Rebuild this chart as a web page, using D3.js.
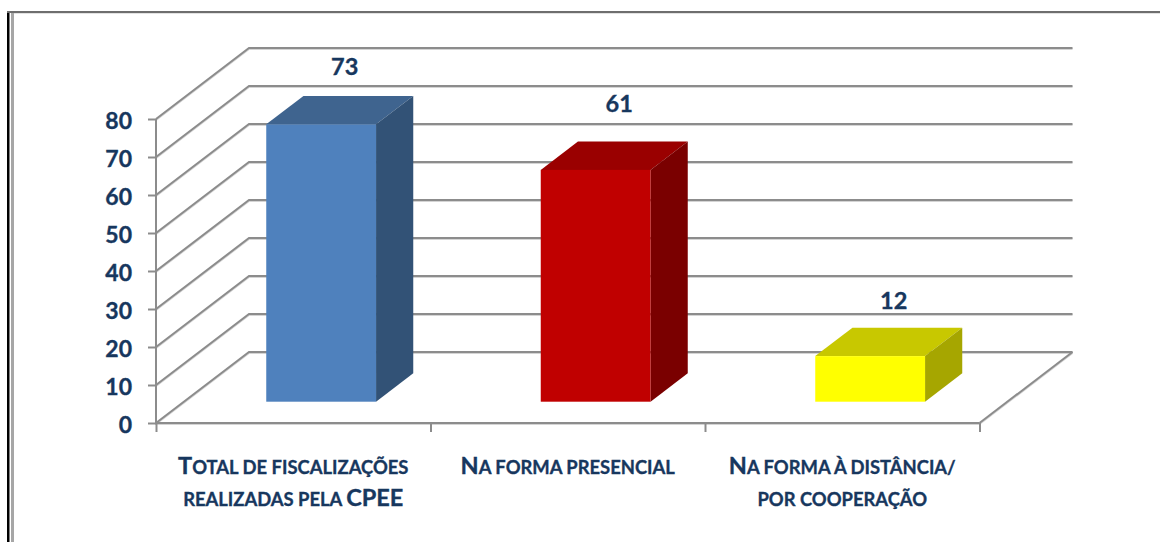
<!DOCTYPE html>
<html><head><meta charset="utf-8">
<script src="https://cdn.jsdelivr.net/npm/d3@7"></script>
<style>html,body{margin:0;background:#fff}svg{display:block}text{font-family:Lato,"Open Sans",sans-serif;font-weight:700;fill:#17375E;stroke:#17375E;stroke-width:.35px}</style>
</head><body><svg id="c" width="1160" height="542"></svg>
<script>
const categories = [["Total de fiscalizações","realizadas pela CPEE"],["Na forma presencial"],["Na forma à distância/","por cooperação"]];
const values = [73,61,12];
const yTicks = [0,10,20,30,40,50,60,70,80];
const frontColors = ["#4F81BD","#C00000","#FFFF00"];
const topColors = ["#3F648F","#9A0000","#C8C800"];
const sideColors = ["#325276","#7A0000","#A6A600"];

const svg = d3.select("#c");
const y = d3.scaleLinear().domain([0,80]).range([423,119]);
const x = d3.scaleBand().domain(d3.range(categories.length)).range([156,979.5]);
const DX = 93, DY = -71;
const grid = "#8C8C8C", shade = "#D4D4D4";
const labelLift = [58,67,56];

// outer frame
svg.append("rect").attr("x",7).attr("y",11).attr("width",2.5).attr("height",531).attr("fill","#000");
svg.append("rect").attr("x",11).attr("y",12).attr("width",3).attr("height",530).attr("fill","#A6A6A6");
svg.append("rect").attr("x",7).attr("y",11).attr("width",1153).attr("height",2).attr("fill","#6E6E6E");
svg.append("rect").attr("x",14).attr("y",13).attr("width",1146).attr("height",1).attr("fill","#E2E2E2");

// walls & gridlines (soft shadow under each line, then the line)
function wall(stroke,off){
  const g = svg.append("g").attr("fill","none").attr("stroke",stroke).attr("stroke-width",2).attr("transform",`translate(0,${off})`);
  yTicks.forEach(t=>{
    g.append("path").attr("d",d3.line()([[x.range()[0],y(t)],[x.range()[0]+DX,y(t)+DY],[x.range()[1]+DX,y(t)+DY]]));
  });
  g.append("path").attr("d",d3.line()([[x.range()[1],y(0)],[x.range()[1]+DX,y(0)+DY]]));
  g.append("path").attr("d",d3.line()([[x.range()[0],y(80)],[x.range()[0],y(0)],[x.range()[1],y(0)]]));
}
wall(shade,1); wall(grid,0);

// axes
const axisY = svg.append("g").attr("transform",`translate(${x.range()[0]},0)`)
  .call(d3.axisLeft(y).tickValues(yTicks).tickSize(8).tickPadding(16));
axisY.select(".domain").remove();
const axisX = svg.append("g").attr("transform",`translate(0,${y(0)})`)
  .call(d3.axisBottom(d3.scaleLinear().domain([0,3]).range(x.range())).tickValues([0,1,2,3]).tickSize(9).tickFormat(""));
axisX.select(".domain").remove();
svg.selectAll(".tick line").attr("stroke",grid).attr("stroke-width",2);
axisY.selectAll("text").style("font-size","23px").attr("dy","0.4em");

// bars
const barW = x.bandwidth()/2.5, d0 = {dx:DX*0.3,dy:DY*0.3}, d1 = {dx:DX*0.4,dy:DY*0.4};
values.forEach((v,i)=>{
  const b = svg.append("g");
  const fx = x(i)+(x.bandwidth()-barW)/2+d0.dx, rx = fx+barW;
  const bottom = y(0)+d0.dy, top = bottom-(y(0)-y(v));
  b.append("polygon").attr("fill",topColors[i]).attr("points",[[fx,top],[fx+d1.dx,top+d1.dy],[rx+d1.dx,top+d1.dy],[rx,top]].join(" "));
  b.append("polygon").attr("fill",sideColors[i]).attr("points",[[rx,top],[rx+d1.dx,top+d1.dy],[rx+d1.dx,bottom+d1.dy],[rx,bottom]].join(" "));
  b.append("rect").attr("x",fx).attr("y",top).attr("width",barW).attr("height",bottom-top).attr("fill",frontColors[i]);
  svg.append("text").attr("x",fx+barW/2+23.5).attr("y",top-labelLift[i]).attr("text-anchor","middle")
    .style("font-size","23.5px").attr("dominant-baseline","central").text(v);
});

// category labels: capitals large, lower-case as smaller capitals
categories.forEach((lines,i)=>{
  const cx = x(i)+x.bandwidth()/2;
  lines.forEach((l,j)=>{
    const t = svg.append("text").attr("x",cx).attr("y",474+j*32).attr("text-anchor","middle").style("text-transform","uppercase");
    (l.match(/[A-Z]+|[^A-Z]+/g)||[]).forEach(run=>{
      t.append("tspan").style("font-size",/[A-Z]/.test(run)?"23.5px":"18.4px").text(run);
    });
  });
});
</script></body></html>
